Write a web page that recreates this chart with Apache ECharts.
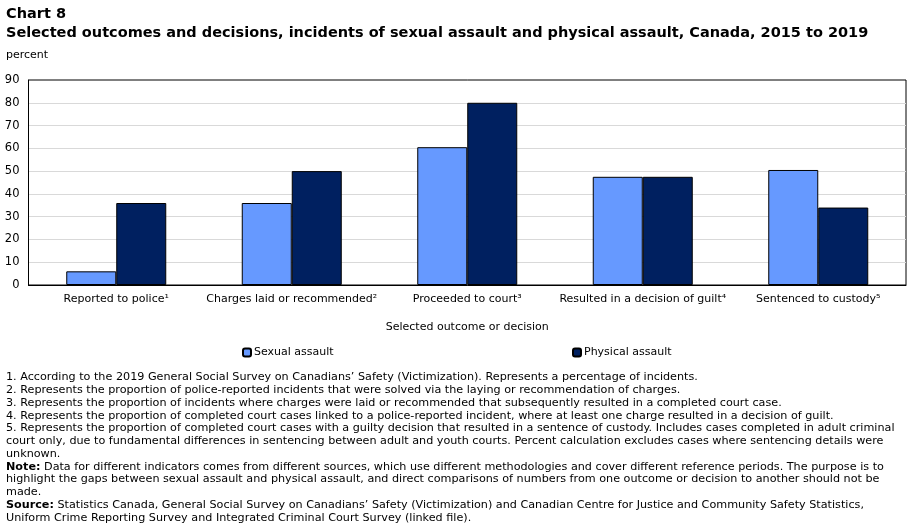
<!DOCTYPE html>
<html>
<head>
<meta charset="utf-8">
<script src="https://cdn.jsdelivr.net/npm/echarts@6/dist/echarts.min.js"></script>
<style>
html,body{margin:0;padding:0;background:#fff;}
#chart{width:915px;height:530px;}
</style>
</head>
<body>
<div id="chart"></div>
<script>
var categories = ['Reported to police\u00b9', 'Charges laid or recommended\u00b2', 'Proceeded to court\u00b3', 'Resulted in a decision of guilt\u2074', 'Sentenced to custody\u2075'];
var sexualAssault = [6, 36, 60.5, 47.5, 50.5];
var physicalAssault = [36, 50, 80, 47.5, 34];
var seriesNames = ['Sexual assault', 'Physical assault'];
var yTicks = {min: 0, max: 90, interval: 10};
var titleLines = ['Chart 8', 'Selected outcomes and decisions, incidents of sexual assault and physical assault, Canada, 2015 to 2019'];
var footnotes = [
  [['', '1. According to the 2019 General Social Survey on Canadians\u2019 Safety (Victimization). Represents a percentage of incidents.']],
  [['', '2. Represents the proportion of police-reported incidents that were solved via the laying or recommendation of charges.']],
  [['', '3. Represents the proportion of incidents where charges were laid or recommended that subsequently resulted in a completed court case.']],
  [['', '4. Represents the proportion of completed court cases linked to a police-reported incident, where at least one charge resulted in a decision of guilt.']],
  [['', '5. Represents the proportion of completed court cases with a guilty decision that resulted in a sentence of custody. Includes cases completed in adult criminal']],
  [['', 'court only, due to fundamental differences in sentencing between adult and youth courts. Percent calculation excludes cases where sentencing details were']],
  [['', 'unknown.']],
  [['Note:', ' Data for different indicators comes from different sources, which use different methodologies and cover different reference periods. The purpose is to']],
  [['', 'highlight the gaps between sexual assault and physical assault, and direct comparisons of numbers from one outcome or decision to another should not be']],
  [['', 'made.']],
  [['Source:', ' Statistics Canada, General Social Survey on Canadians\u2019 Safety (Victimization) and Canadian Centre for Justice and Community Safety Statistics,']],
  [['', 'Uniform Crime Reporting Survey and Integrated Criminal Court Survey (linked file).']]
];

var FONT = '"DejaVu Sans", Verdana, sans-serif';
var chart = echarts.init(document.getElementById('chart'), null, {renderer: 'canvas'});

var graphics = [];
graphics.push({type: 'text', left: 6, top: 7, style: {text: titleLines[0], font: 'bold 14.5px ' + FONT, fill: '#000'}});
graphics.push({type: 'text', left: 6, top: 26, style: {text: titleLines[1], font: 'bold 14.5px ' + FONT, fill: '#000'}});
graphics.push({type: 'text', left: 6, top: 50, style: {text: 'percent', font: '11px ' + FONT, fill: '#000'}});
footnotes.forEach(function (line, i) {
  var parts = line[0];
  var txt = (parts[0] ? '{b|' + parts[0] + '}' : '') + parts[1];
  graphics.push({
    type: 'text', left: 6, top: 372 + i * 12.75,
    style: {
      text: txt, font: '11.2px ' + FONT, fill: '#000',
      rich: {b: {fontWeight: 'bold', fontSize: 11.2, fontFamily: FONT, fill: '#000'}}
    }
  });
});

chart.setOption({
  animation: false,
  textStyle: {fontFamily: FONT, color: '#000'},
  grid: {left: 28.5, right: 9, top: 80, bottom: 245, show: true, borderColor: '#000', borderWidth: 1, containLabel: false},
  legend: [
    {data: [seriesNames[0]], left: 237, top: 342, itemWidth: 8, itemHeight: 8, itemGap: 0,
     textStyle: {fontSize: 11, fontFamily: FONT, color: '#000', padding: [0, 0, 0, -2]}},
    {data: [seriesNames[1]], left: 567, top: 342, itemWidth: 8, itemHeight: 8, itemGap: 0,
     textStyle: {fontSize: 11, fontFamily: FONT, color: '#000', padding: [0, 0, 0, -2]}}
  ],
  xAxis: {
    type: 'category', data: categories,
    axisTick: {show: false},
    axisLine: {lineStyle: {color: '#000', width: 1}},
    axisLabel: {fontSize: 11, fontFamily: FONT, color: '#000', margin: 9, interval: 0},
    name: 'Selected outcome or decision', nameLocation: 'middle', nameGap: 37,
    nameTextStyle: {fontSize: 11, fontFamily: FONT, color: '#000'}
  },
  yAxis: {
    type: 'value', min: yTicks.min, max: yTicks.max, interval: yTicks.interval,
    axisLine: {show: true, lineStyle: {color: '#000'}},
    axisTick: {show: false},
    axisLabel: {fontSize: 11.5, fontFamily: FONT, color: '#000', margin: 9},
    splitLine: {showMaxLine: false, lineStyle: {color: '#d9d9d9', width: 1}}
  },
  series: [
    {name: seriesNames[0], type: 'bar', data: sexualAssault, barWidth: 50, barGap: '0%',
     itemStyle: {color: '#6699ff', borderColor: '#000', borderWidth: 1}},
    {name: seriesNames[1], type: 'bar', data: physicalAssault, barWidth: 50, barGap: '0%',
     itemStyle: {color: '#002060', borderColor: '#000', borderWidth: 1}}
  ],
  graphic: graphics
});
</script>
</body>
</html>
